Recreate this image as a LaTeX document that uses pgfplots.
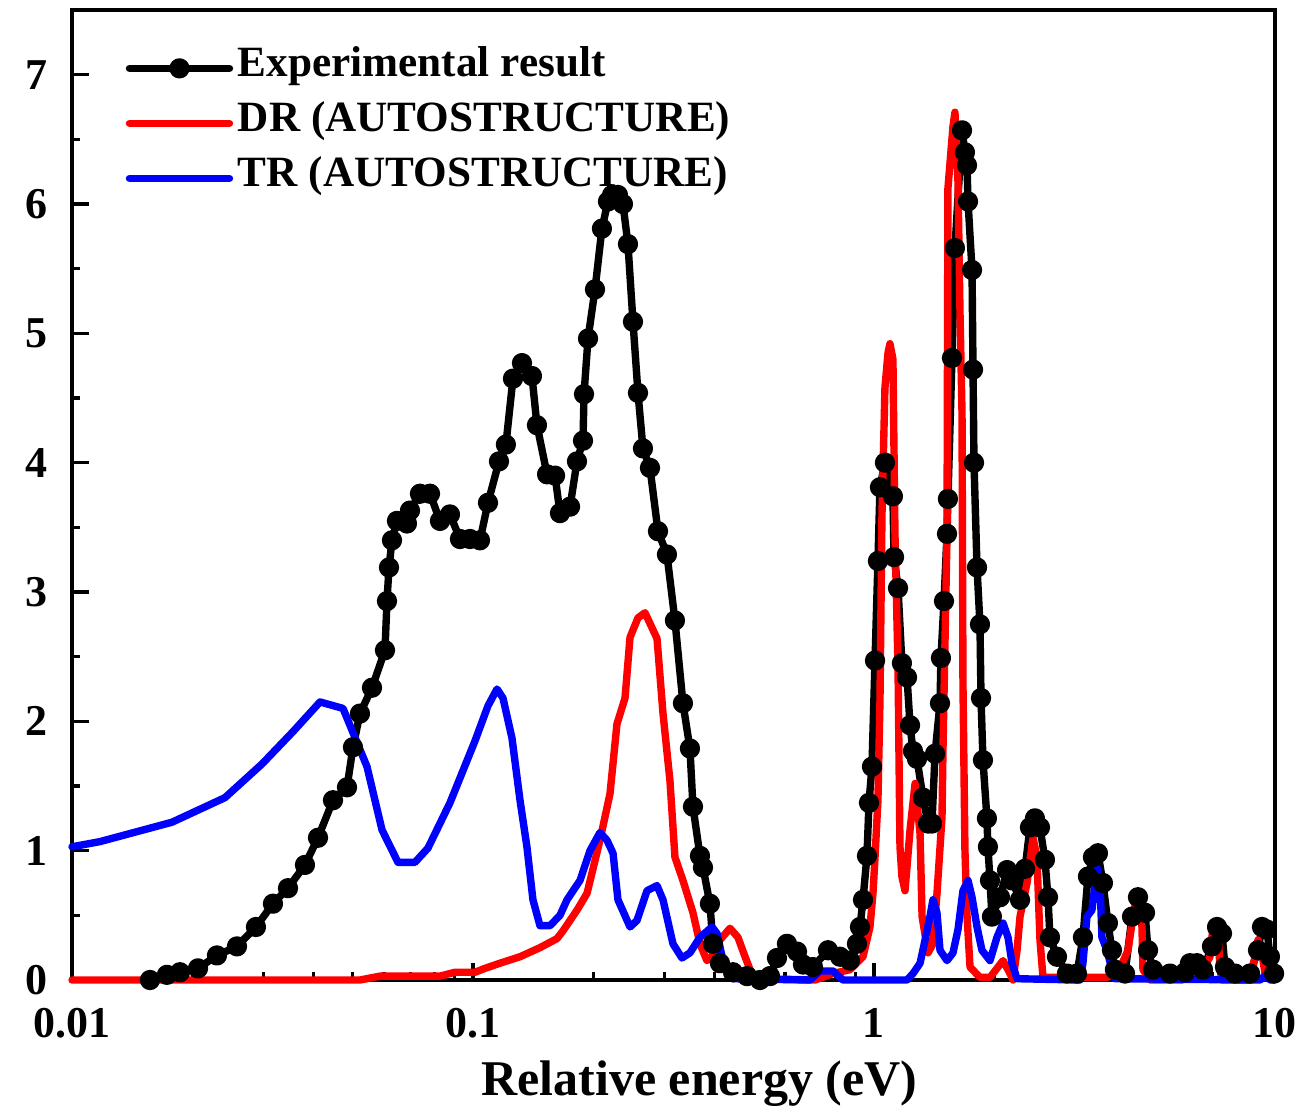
\documentclass[border=0pt]{standalone}
\usepackage{fontspec}
\setmainfont{Liberation Serif}
\usepackage{pgfplots}
\pgfplotsset{compat=1.18}

% Merged-beam rate coefficient spectra
\pgfplotstableread{
x y
0.01565 0.00
0.01725 0.04
0.01859 0.06
0.02062 0.09
0.02299 0.19
0.02579 0.26
0.02876 0.41
0.03171 0.59
0.03457 0.71
0.03811 0.89
0.04107 1.10
0.04476 1.39
0.04851 1.49
0.05020 1.80
0.05226 2.06
0.05600 2.26
0.06033 2.55
0.06103 2.93
0.06174 3.19
0.06281 3.40
0.06464 3.55
0.06845 3.53
0.06965 3.63
0.07376 3.76
0.07813 3.76
0.08274 3.55
0.08762 3.60
0.09281 3.41
0.09829 3.41
0.1041 3.40
0.1090 3.69
0.1161 4.01
0.1208 4.14
0.1258 4.65
0.1325 4.77
0.1403 4.67
0.1444 4.29
0.1530 3.91
0.1602 3.90
0.1648 3.61
0.1746 3.66
0.1817 4.01
0.1881 4.17
0.1892 4.53
0.1936 4.96
0.2015 5.34
0.2097 5.81
0.2171 6.02
0.2222 6.07
0.2299 6.07
0.2366 6.00
0.2435 5.69
0.2506 5.09
0.2579 4.54
0.2654 4.11
0.2763 3.96
0.2893 3.47
0.3046 3.29
0.3189 2.78
0.3339 2.14
0.3476 1.79
0.3537 1.34
0.3682 0.96
0.3746 0.87
0.3899 0.59
0.3967 0.28
0.4130 0.13
0.4450 0.06
0.4824 0.03
0.5195 0.00
0.5503 0.03
0.5729 0.17
0.6067 0.28
0.6427 0.22
0.6652 0.12
0.7046 0.10
0.7680 0.23
0.8228 0.18
0.8711 0.15
0.9069 0.28
0.9228 0.41
0.9389 0.62
0.9606 0.96
0.9717 1.37
0.9885 1.65
1.006 2.47
1.023 3.24
1.035 3.81
1.065 4.00
1.115 3.74
1.122 3.27
1.148 3.03
1.174 2.45
1.209 2.34
1.230 1.97
1.251 1.77
1.280 1.71
1.325 1.41
1.364 1.21
1.395 1.21
1.420 1.75
1.461 2.14
1.469 2.49
1.495 2.93
1.521 3.45
1.529 3.72
1.565 4.81
1.592 5.66
1.658 6.57
1.686 6.40
1.706 6.30
1.716 6.02
1.756 5.49
1.766 4.72
1.776 4.00
1.807 3.19
1.838 2.75
1.849 2.18
1.870 1.70
1.913 1.25
1.924 1.03
1.947 0.77
1.969 0.49
2.062 0.64
2.147 0.85
2.209 0.77
2.313 0.62
2.381 0.86
2.449 1.18
2.520 1.25
2.594 1.18
2.669 0.93
2.716 0.64
2.747 0.33
2.860 0.18
3.029 0.05
3.208 0.05
3.320 0.33
3.417 0.80
3.516 0.95
3.619 0.98
3.724 0.75
3.833 0.44
3.922 0.23
3.990 0.08
4.227 0.05
4.400 0.49
4.554 0.64
4.741 0.52
4.824 0.23
4.964 0.08
5.472 0.05
5.966 0.06
6.138 0.13
6.391 0.13
6.614 0.08
6.965 0.26
7.170 0.41
7.378 0.36
7.506 0.10
7.949 0.05
8.665 0.05
9.072 0.23
9.283 0.41
9.550 0.39
9.716 0.18
9.950 0.05
}\expdata

\pgfplotstableread{
x y
0.01000 0.00
0.05226 0.00
0.05864 0.03
0.08274 0.03
0.09018 0.06
0.1012 0.06
0.1071 0.09
0.1168 0.13
0.1310 0.18
0.1469 0.25
0.1620 0.32
0.1677 0.38
0.1817 0.54
0.1925 0.67
0.2073 1.08
0.2196 1.44
0.2286 1.98
0.2394 2.18
0.2464 2.65
0.2579 2.80
0.2685 2.84
0.2877 2.64
0.2978 2.06
0.3099 1.54
0.3189 0.95
0.3339 0.77
0.3537 0.52
0.3682 0.28
0.3832 0.15
0.3990 0.20
0.4130 0.31
0.4374 0.40
0.4579 0.33
0.4769 0.18
0.4908 0.08
0.5107 0.01
0.7127 0.00
0.7903 0.05
0.8711 0.08
0.9389 0.18
0.9772 0.41
0.9943 0.67
1.006 0.95
1.023 1.39
1.035 2.16
1.047 3.60
1.065 4.58
1.084 4.85
1.096 4.92
1.115 4.80
1.128 3.45
1.148 2.42
1.161 1.03
1.174 0.80
1.195 0.69
1.230 1.16
1.266 1.52
1.303 1.13
1.318 0.49
1.364 0.21
1.403 0.28
1.436 0.67
1.478 1.26
1.486 1.77
1.521 3.45
1.529 6.12
1.574 6.60
1.592 6.71
1.620 6.17
1.639 5.15
1.658 4.38
1.667 2.29
1.686 1.00
1.706 0.50
1.736 0.10
1.838 0.02
1.947 0.02
2.038 0.10
2.098 0.15
2.184 0.05
2.222 0.00
2.274 0.23
2.313 0.49
2.408 0.75
2.492 1.10
2.549 0.95
2.594 0.31
2.639 0.02
3.811 0.02
4.107 0.09
4.300 0.23
4.425 0.49
4.554 0.64
4.659 0.41
4.686 0.08
4.879 0.00
5.864 0.00
5.966 0.08
6.138 0.14
6.318 0.08
6.614 0.08
6.885 0.18
7.005 0.41
7.209 0.39
7.292 0.08
7.378 0.00
8.665 0.00
8.814 0.10
9.072 0.31
9.337 0.15
9.444 0.05
9.716 0.06
9.950 0.00
}\drdata

\pgfplotstableread{
x y
0.01000 1.03
0.01174 1.07
0.01776 1.22
0.02407 1.41
0.02977 1.67
0.03557 1.92
0.04155 2.15
0.04741 2.10
0.05441 1.65
0.05932 1.16
0.06501 0.91
0.07168 0.91
0.07723 1.02
0.08762 1.37
0.1012 1.85
0.1090 2.12
0.1148 2.25
0.1188 2.18
0.1251 1.87
0.1310 1.39
0.1363 1.03
0.1411 0.62
0.1469 0.42
0.1556 0.42
0.1648 0.50
0.1716 0.62
0.1849 0.77
0.1958 1.00
0.2073 1.14
0.2159 1.08
0.2235 0.98
0.2299 0.62
0.2464 0.41
0.2564 0.46
0.2716 0.69
0.2877 0.73
0.2978 0.62
0.3153 0.28
0.3320 0.17
0.3476 0.21
0.3682 0.33
0.3945 0.41
0.4060 0.36
0.4202 0.15
0.4450 0.01
0.6925 0.00
0.7333 0.07
0.7903 0.07
0.8371 0.00
1.209 0.00
1.251 0.05
1.303 0.13
1.341 0.31
1.379 0.49
1.403 0.62
1.436 0.52
1.461 0.23
1.521 0.15
1.574 0.21
1.620 0.39
1.667 0.69
1.716 0.77
1.756 0.64
1.807 0.41
1.859 0.23
1.947 0.15
2.026 0.33
2.098 0.44
2.159 0.33
2.209 0.13
2.274 0.01
3.264 0.00
3.320 0.13
3.397 0.49
3.496 0.54
3.598 0.87
3.661 0.75
3.703 0.33
3.811 0.23
3.922 0.08
3.990 0.01
9.177 0.00
9.498 0.04
9.716 0.00
9.950 0.00
}\trdata

\begin{document}
\begin{tikzpicture}
\path (-18pt,-31.5pt) rectangle (307pt,245pt);
\begin{axis}[
  scale only axis,
  width=300.75pt, height=242.5pt,
  xmode=log,
  xmin=0.01, xmax=10, ymin=0, ymax=7.5,
  xtick={0.01,0.1,1,10},
  xticklabels={0.01,0.1,1,10},
  minor xtick={0.02,0.03,0.04,0.05,0.06,0.07,0.08,0.09,0.2,0.3,0.4,0.5,0.6,0.7,0.8,0.9,2,3,4,5,6,7,8,9},
  ytick={0,1,2,3,4,5,6,7},
  yticklabels={0,1,2,3,4,5,6,7},
  minor ytick={0.5,1.5,2.5,3.5,4.5,5.5,6.5},
  tick align=inside,
  xtick pos=left, ytick pos=left,
  major tick length=4.3pt, minor tick length=2pt,
  every tick/.style={black, line width=0.8pt},
  axis line style={line width=1pt},
  ticklabel style={font=\bfseries\fontsize{11}{13}\selectfont},
  xticklabel style={inner sep=0pt, anchor=base, yshift=-14.25pt},
  yticklabel style={inner sep=0pt, anchor=east, xshift=-6pt},
  xlabel={Relative energy (eV)},
  xlabel style={font=\bfseries\fontsize{12.5}{14}\selectfont, at={(axis description cs:0.5216,0)}, anchor=base, yshift=-28.75pt, inner sep=0pt},
  clip=false,
  every axis plot/.append style={line width=1.85pt, line join=round, line cap=round},
  legend cell align=left,
  legend image code/.code={\draw[mark repeat=2,mark phase=2,#1] plot coordinates {(0pt,0pt) (12.5pt,0pt) (25pt,0pt)};},
  legend style={at={(axis description cs:0,1)}, anchor=north west, xshift=13.25pt, yshift=-7.5pt,
    draw=none, fill=none, inner sep=0pt, row sep=0pt,
    font=\bfseries\fontsize{10.8}{13}\selectfont,
    nodes={inner ysep=0pt, inner xsep=1.2pt, text height=9pt, text depth=4.75pt}},
]
\addplot[black, mark=*, mark size=1.6pt, mark options={solid}] table[x=x, y=y] {\expdata};
\addlegendentry{Experimental result}
\addplot[red] table[x=x, y=y] {\drdata};
\addlegendentry{DR (AUTOSTRUCTURE)}
\addplot[blue] table[x=x, y=y] {\trdata};
\addlegendentry{TR (AUTOSTRUCTURE)}
\end{axis}
\end{tikzpicture}
\end{document}
